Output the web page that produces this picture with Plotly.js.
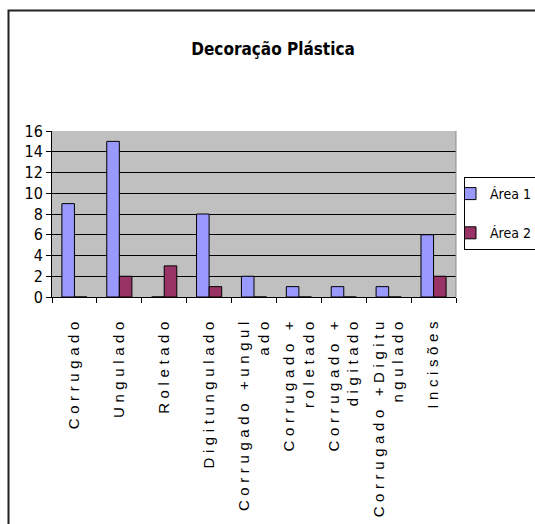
<!DOCTYPE html>
<html>
<head>
<meta charset="utf-8">
<script src="https://cdn.plot.ly/plotly-3.0.1.min.js"></script>
<style>
  html, body { margin: 0; padding: 0; background: #fff; }
  #chart { width: 535px; height: 524px; }
  /* wide tracking on the category labels */
  .xtick text { letter-spacing: 4.6px; }
</style>
</head>
<body>
<div id="chart"></div>
<script>
// Decoração plástica: counts per decoration type, two excavation areas
const categories = [
  "Corrugado",
  "Ungulado",
  "Roletado",
  "Digitungulado",
  "Corrugado +ungul<br>ado",
  "Corrugado +<br>roletado",
  "Corrugado +<br>digitado",
  "Corrugado +Digitu<br>ngulado",
  "Incisões"
];
const area1 = [9, 15, 0, 8, 2, 1, 1, 1, 6];
const area2 = [0, 2, 3, 1, 0, 0, 0, 0, 2];
const seriesNames = ["Área 1", "Área 2"];
const yTicks = [0, 2, 4, 6, 8, 10, 12, 14, 16];

const narrow = '"DejaVu Sans Condensed", "Liberation Sans Narrow", "Liberation Sans", Arial, sans-serif';
const regular = '"Liberation Sans", Arial, sans-serif';

const traces = [
  {
    type: "bar", name: seriesNames[0], x: categories, y: area1,
    legendgroup: "a1",
    marker: { color: "#9999FF", line: { color: "#000000", width: 1 } }
  },
  {
    type: "bar", name: seriesNames[1], x: categories, y: area2,
    legendgroup: "a2",
    marker: { color: "#993366", line: { color: "#000000", width: 1 } }
  }
];

const layout = {
  width: 535,
  height: 524,
  margin: { l: 52, r: 79, t: 131, b: 227, autoexpand: false },
  paper_bgcolor: "#FFFFFF",
  plot_bgcolor: "#C0C0C0",
  barmode: "group",
  bargap: 0.44,
  bargroupgap: 0,
  title: {
    text: "<b>Decoração Plástica</b>",
    font: { family: narrow, size: 17, color: "#000000" },
    x: 273 / 535, xref: "container", xanchor: "center",
    y: 1 - 49 / 524, yref: "container", yanchor: "middle"
  },
  xaxis: {
    type: "category",
    tickangle: -90,
    tickson: "boundaries",
    ticks: "outside", ticklen: 5, tickcolor: "#000000", tickwidth: 1,
    showline: true, linecolor: "#000000", linewidth: 1,
    showgrid: false,
    ticklabelstandoff: 13,
    tickfont: { family: regular, size: 15, color: "#000000" },
    fixedrange: true
  },
  yaxis: {
    range: [0, 16],
    tickvals: yTicks,
    ticktext: yTicks.map(String),
    ticks: "outside", ticklen: 5, tickcolor: "#000000", tickwidth: 1,
    showline: true, linecolor: "#000000", linewidth: 1,
    showgrid: true, gridcolor: "#000000", gridwidth: 1,
    zeroline: false,
    tickfont: { family: narrow, size: 16, color: "#000000" },
    fixedrange: true
  },
  showlegend: true,
  legend: {
    x: (464 - 52) / 404, xanchor: "left",
    y: (297 - 177) / 166, yanchor: "top",
    bgcolor: "#FFFFFF",
    bordercolor: "#000000", borderwidth: 1,
    font: { family: narrow, size: 14, color: "#000000" },
    traceorder: "grouped",
    tracegroupgap: 18,
    indentation: -15
  },
  shapes: [
    {
      // chart frame (top and left edges visible)
      type: "rect", xref: "paper", yref: "paper",
      x0: (8.5 - 52) / 404, x1: (545 - 52) / 404,
      y0: (297 - 535) / 166, y1: (297 - 10.5) / 166,
      line: { color: "#222222", width: 2 },
      fillcolor: "rgba(0,0,0,0)",
      layer: "above"
    },
    {
      // light right edge of the plot area
      type: "line", xref: "paper", yref: "paper",
      x0: 1, x1: 1, y0: 0, y1: 1,
      line: { color: "#8C8C8C", width: 1 }
    }
  ]
};

Plotly.newPlot("chart", traces, layout, { displayModeBar: false, staticPlot: true });
</script>
</body>
</html>
